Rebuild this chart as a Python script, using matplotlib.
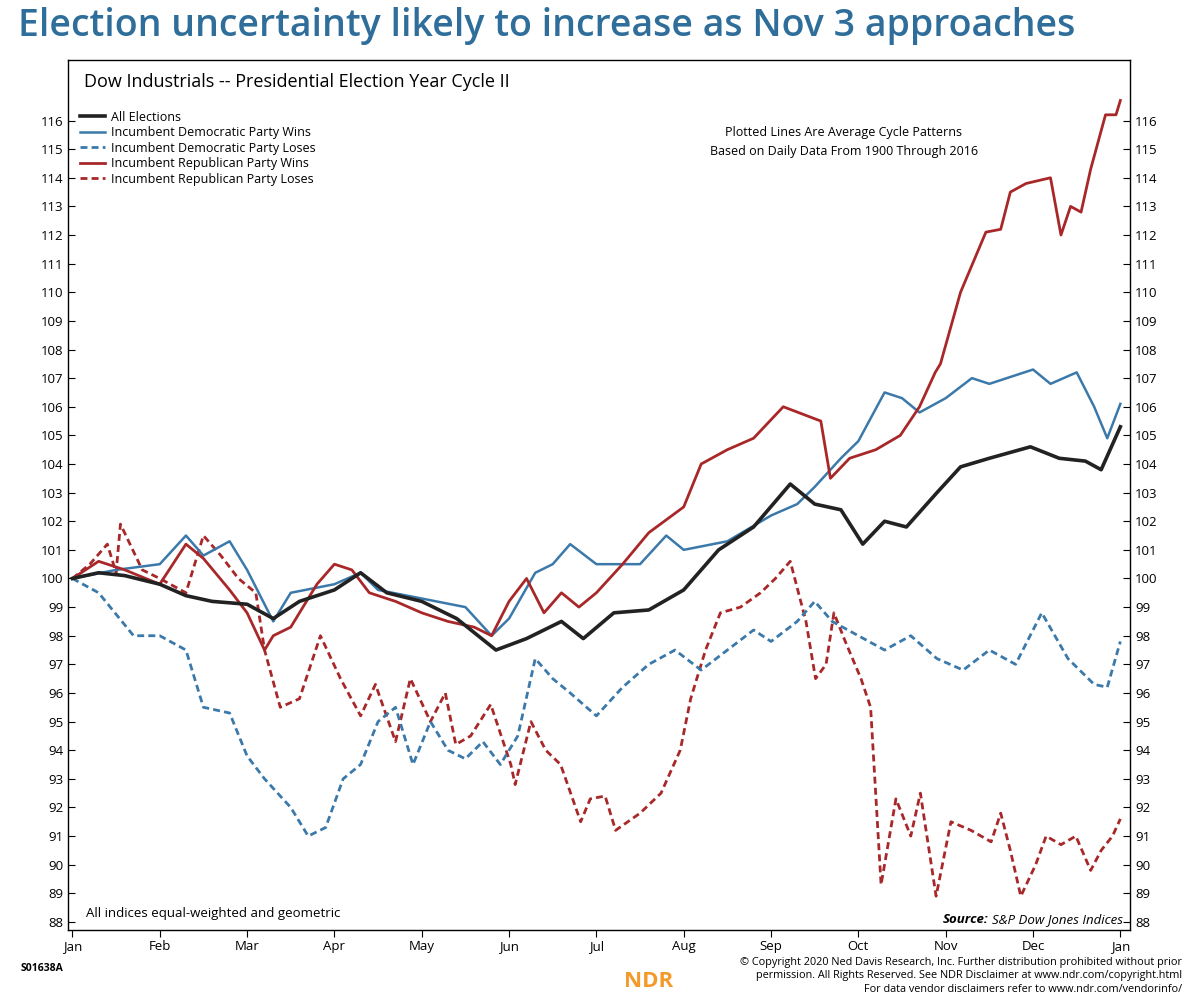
import matplotlib
matplotlib.use("Agg")
import matplotlib.pyplot as plt
import numpy as np

plt.rcParams['font.family'] = ['Open Sans', 'DejaVu Sans']

months = ["Jan","Feb","Mar","Apr","May","Jun","Jul","Aug","Sep","Oct","Nov","Dec","Jan"]

all_x = [0,0.3,0.6,1.0,1.3,1.6,2.0,2.3,2.6,3.0,3.3,3.6,4.0,4.4,4.85,5.2,5.6,5.85,6.2,6.6,7.0,7.4,7.8,8.22,8.5,8.8,9.05,9.3,9.55,9.9,10.17,10.5,10.97,11.3,11.6,11.78,12]
all_y = [100,100.2,100.1,99.8,99.4,99.2,99.1,98.6,99.2,99.6,100.2,99.5,99.2,98.6,97.5,97.9,98.5,97.9,98.8,98.9,99.6,101,101.8,103.3,102.6,102.4,101.2,102,101.8,103,103.9,104.2,104.6,104.2,104.1,103.8,105.3]

dw_x = [0,0.5,1.0,1.3,1.5,1.8,2.0,2.3,2.5,3.0,3.3,3.5,4.0,4.5,4.8,5.0,5.3,5.5,5.7,6.0,6.5,6.8,7.0,7.5,8.0,8.3,8.5,8.8,9.0,9.3,9.5,9.7,10.0,10.3,10.5,11.0,11.2,11.5,11.7,11.85,12]
dw_y = [100,100.3,100.5,101.5,100.8,101.3,100.3,98.5,99.5,99.8,100.2,99.6,99.3,99.0,98.0,98.6,100.2,100.5,101.2,100.5,100.5,101.5,101.0,101.3,102.2,102.6,103.2,104.2,104.8,106.5,106.3,105.8,106.3,107.0,106.8,107.3,106.8,107.2,106.0,104.9,106.1]

dl_x = [0,0.3,0.7,1.0,1.3,1.5,1.8,2.0,2.2,2.5,2.7,2.9,3.1,3.3,3.5,3.7,3.9,4.1,4.3,4.5,4.7,4.9,5.1,5.3,5.5,5.7,6.0,6.3,6.6,6.9,7.2,7.5,7.8,8.0,8.3,8.5,8.7,9.0,9.3,9.6,9.9,10.2,10.5,10.8,11.1,11.4,11.7,11.85,12]
dl_y = [100,99.5,98.0,98.0,97.5,95.5,95.3,93.8,93.0,92.0,91.0,91.3,93.0,93.5,95.0,95.5,93.5,95.0,94.0,93.7,94.3,93.5,94.5,97.2,96.5,96.0,95.2,96.2,97.0,97.5,96.8,97.5,98.2,97.8,98.5,99.2,98.5,98.0,97.5,98.0,97.2,96.8,97.5,97.0,98.8,97.2,96.3,96.2,97.8]

rw_x = [0,0.3,0.6,1.0,1.3,1.5,1.8,2.0,2.2,2.3,2.5,2.8,3.0,3.2,3.4,3.7,4.0,4.3,4.6,4.8,5.0,5.2,5.4,5.6,5.8,6.0,6.3,6.6,7.0,7.2,7.5,7.8,8.14,8.57,8.68,8.9,9.2,9.48,9.7,9.88,9.94,10.17,10.46,10.63,10.74,10.92,11.2,11.32,11.43,11.55,11.66,11.83,11.95,12]
rw_y = [100,100.6,100.3,99.8,101.2,100.7,99.6,98.8,97.5,98.0,98.3,99.8,100.5,100.3,99.5,99.2,98.8,98.5,98.3,98.0,99.2,100.0,98.8,99.5,99.0,99.5,100.5,101.6,102.5,104.0,104.5,104.9,106.0,105.5,103.5,104.2,104.5,105.0,106.0,107.2,107.5,110.0,112.1,112.2,113.5,113.8,114.0,112.0,113.0,112.8,114.3,116.2,116.2,116.7]

rl_x = [0,0.2,0.4,0.5,0.55,0.8,1.0,1.3,1.5,1.7,1.9,2.1,2.2,2.38,2.6,2.84,3.07,3.3,3.47,3.7,3.87,4.1,4.27,4.39,4.56,4.79,5.02,5.07,5.25,5.42,5.59,5.82,5.93,6.1,6.22,6.5,6.74,6.96,7.08,7.25,7.42,7.65,7.88,8.05,8.22,8.4,8.51,8.63,8.72,8.85,9.03,9.14,9.26,9.43,9.6,9.71,9.89,10.06,10.29,10.52,10.63,10.74,10.86,11.03,11.15,11.32,11.49,11.66,11.78,11.91,12]
rl_y = [100,100.5,101.2,100.2,101.9,100.3,100.0,99.5,101.5,100.8,100.0,99.5,97.5,95.5,95.8,98.0,96.5,95.2,96.3,94.3,96.5,95.0,96.0,94.2,94.5,95.6,93.5,92.8,95.0,94.0,93.5,91.5,92.3,92.4,91.2,91.8,92.5,94.0,95.8,97.5,98.8,99.0,99.5,100.0,100.6,98.5,96.5,97.0,98.8,97.8,96.5,95.5,89.3,92.3,91.0,92.5,88.9,91.5,91.2,90.8,91.8,90.5,88.9,90.0,91.0,90.7,91.0,89.8,90.5,91.0,91.6]

BLUE = "#3B79AA"; RED = "#A8282A"; BLACK = "#222222"

fig = plt.figure(figsize=(12, 10.07), dpi=100)
fig.text(0.015, 0.974, "Election uncertainty likely to increase as Nov 3 approaches",
         fontsize=27, color="#2F6E9A", fontweight="semibold", va="center", ha="left")

ax = fig.add_axes([0.057, 0.0765, 0.885, 0.8635])
ax.set_xlim(-0.046, 12.115)
ax.set_ylim(87.72, 118.1)
ax.plot(rl_x, rl_y, color=RED, lw=2, ls=(0, (2.5, 1.5)))
ax.plot(dl_x, dl_y, color=BLUE, lw=2, ls=(0, (2.5, 1.5)))
ax.plot(dw_x, dw_y, color=BLUE, lw=1.8)
ax.plot(rw_x, rw_y, color=RED, lw=2)
ax.plot(all_x, all_y, color=BLACK, lw=2.6)

yt = list(range(88, 117))
ax.set_yticks(yt)
ax.set_yticklabels([str(v) for v in yt])
ax.tick_params(axis="y", which="both", left=True, right=True, labelleft=True, labelright=True,
               direction="in", length=5, labelsize=9.5)
ax.set_xticks(range(13))
ax.set_xticklabels(months)
ax.tick_params(axis="x", direction="out", length=5, labelsize=9.5, pad=2)
for s in ax.spines.values():
    s.set_linewidth(1.0)

ax.text(0.015, 0.986, "Dow Industrials -- Presidential Election Year Cycle II", transform=ax.transAxes,
        fontsize=13, va="top", ha="left")
ax.text(0.73, 0.925, "Plotted Lines Are Average Cycle Patterns\nBased on Daily Data From 1900 Through 2016",
        transform=ax.transAxes, fontsize=9, ha="center", va="top", linespacing=1.6)
ax.text(0.017, 0.012, "All indices equal-weighted and geometric", transform=ax.transAxes,
        fontsize=9.5, ha="left", va="bottom")
ax.text(0.993, 0.005, "S&P Dow Jones Indices", transform=ax.transAxes,
        fontsize=9.5, ha="right", va="bottom", style="italic")
ax.text(0.866, 0.005, "Source:", transform=ax.transAxes,
        fontsize=9.5, ha="right", va="bottom", style="italic", fontweight="bold")

from matplotlib.lines import Line2D
handles = [Line2D([], [], color=BLACK, lw=2.6),
           Line2D([], [], color=BLUE, lw=1.8),
           Line2D([], [], color=BLUE, lw=2, ls=(0, (2.5, 1.5))),
           Line2D([], [], color=RED, lw=2),
           Line2D([], [], color=RED, lw=2, ls=(0, (2.5, 1.5)))]
labels = ["All Elections", "Incumbent Democratic Party Wins", "Incumbent Democratic Party Loses",
          "Incumbent Republican Party Wins", "Incumbent Republican Party Loses"]
ax.legend(handles, labels, loc="upper left", bbox_to_anchor=(0.0, 0.955), frameon=False,
          fontsize=9, handlelength=2.0, labelspacing=0.2, borderaxespad=0.5, handletextpad=0.5)

fig.text(0.017, 0.036, "S01638A", fontsize=7.5, fontweight="bold")
fig.text(0.52, 0.025, "NDR", fontsize=16, fontweight="bold", color="#F39A2B", va="center")
fig.text(0.985, 0.05, "© Copyright 2020 Ned Davis Research, Inc. Further distribution prohibited without prior\n"
         "permission. All Rights Reserved. See NDR Disclaimer at www.ndr.com/copyright.html\n"
         "For data vendor disclaimers refer to www.ndr.com/vendorinfo/",
         fontsize=7.8, ha="right", va="top", linespacing=1.35)

fig.savefig("out.png", dpi=100)
